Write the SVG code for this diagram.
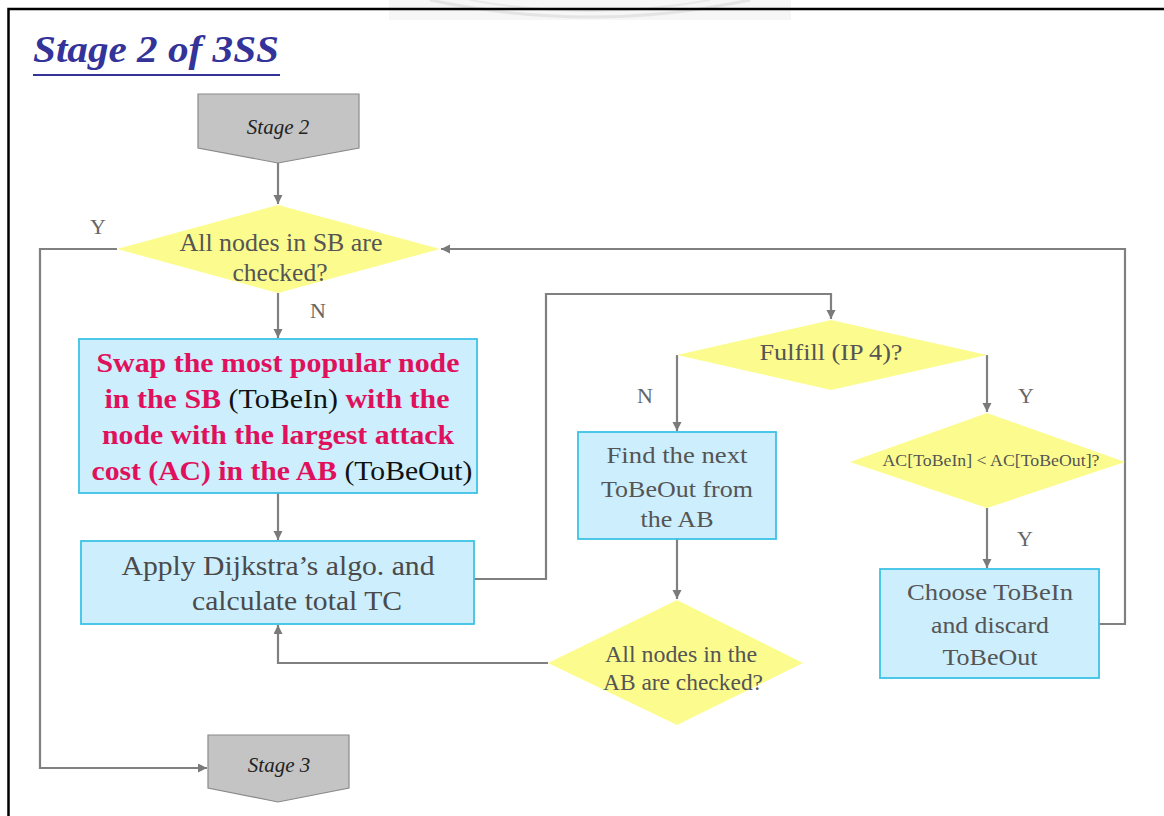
<svg xmlns="http://www.w3.org/2000/svg" width="1164" height="816" viewBox="0 0 1164 816">
  <defs>
    <marker id="arrow" markerUnits="userSpaceOnUse" markerWidth="10" markerHeight="10" refX="9" refY="4.5" orient="auto">
      <path d="M0,0 L9,4.5 L0,9 z" fill="#7a7a7a"/>
    </marker>
    <style>
      .frame { stroke: #000; stroke-width: 2.5; fill: none; }
      .conn { fill: none; stroke: #808080; stroke-width: 2.2; }
      .box { fill: #cdeefd; stroke: #3cc3e6; stroke-width: 1.8; }
      .dia { fill: #fcfc8e; }
      .term { fill: #c4c4c4; stroke: #8a8a8a; stroke-width: 1.2; }
      .txt { font-family: "Liberation Serif", "Times New Roman", serif; fill: #555; text-anchor: middle; }
      .lbl { font-family: "Liberation Serif", "Times New Roman", serif; fill: #666; font-size: 22px; text-anchor: middle; }
      .term-txt { font-family: "Liberation Serif", "Times New Roman", serif; font-style: italic; font-size: 21px; fill: #222; text-anchor: middle; }
      .hot { font-weight: bold; fill: #e0115c; }
      .plain { font-weight: normal; fill: #111; }
    </style>
  </defs>

  <rect width="1164" height="816" fill="#ffffff"/>

  <!-- faint seal at the top edge -->
  <g id="seal" opacity="0.55">
    <rect x="389" y="0" width="402" height="20" fill="#efefef"/>
    <path d="M430,0 Q590,34 750,0" fill="none" stroke="#cfcfcf" stroke-width="3"/>
    <path d="M470,0 Q590,22 710,0" fill="none" stroke="#d6d6d6" stroke-width="2"/>
  </g>

  <!-- slide frame -->
  <path class="frame" d="M1164,9 H8.5 V816"/>

  <!-- title -->
  <g id="title">
    <text x="33" y="62" font-family="Liberation Serif, Times New Roman, serif" font-size="38" font-weight="bold" font-style="italic" fill="#333399" textLength="246" lengthAdjust="spacingAndGlyphs">Stage 2 of 3SS</text>
    <line x1="33" y1="75" x2="280" y2="75" stroke="#333399" stroke-width="2"/>
  </g>

  <!-- connectors -->
  <g id="connectors">
    <path class="conn" d="M278,163 V204" marker-end="url(#arrow)"/>
    <path class="conn" d="M278,293 V338" marker-end="url(#arrow)"/>
    <path class="conn" d="M278,493 V540" marker-end="url(#arrow)"/>
    <path class="conn" d="M474,579 H546 V294 H831 V319" marker-end="url(#arrow)"/>
    <path class="conn" d="M677,355 V431" marker-end="url(#arrow)"/>
    <path class="conn" d="M677,539 V599" marker-end="url(#arrow)"/>
    <path class="conn" d="M548,663 H278 V625" marker-end="url(#arrow)"/>
    <path class="conn" d="M987,355 V412" marker-end="url(#arrow)"/>
    <path class="conn" d="M987,508 V568" marker-end="url(#arrow)"/>
    <path class="conn" d="M1099,624 H1125 V249 H441" marker-end="url(#arrow)"/>
    <path class="conn" d="M117,249 H40 V768 H207" marker-end="url(#arrow)"/>
  </g>

  <!-- branch labels -->
  <g id="labels">
    <text class="lbl" x="98" y="234">Y</text>
    <text class="lbl" x="318" y="318">N</text>
    <text class="lbl" x="645" y="403">N</text>
    <text class="lbl" x="1026" y="403">Y</text>
    <text class="lbl" x="1025" y="546">Y</text>
  </g>

  <g id="stage2">
    <path class="term" d="M198,94 H359 V148 L278,163 L198,148 Z"/>
    <text class="term-txt" x="278" y="134">Stage 2</text>
  </g>

  <g id="check-sb">
    <path class="dia" d="M278,205 L440,249 L278,293 L117,249 Z"/>
    <text class="txt" font-size="25" x="281" y="251" textLength="203" lengthAdjust="spacingAndGlyphs">All nodes in SB are</text>
    <text class="txt" font-size="25" x="280" y="281" textLength="95" lengthAdjust="spacingAndGlyphs">checked?</text>
  </g>

  <g id="swap">
    <rect class="box" x="79" y="339" width="398" height="154"/>
    <text x="278" y="372" font-family="Liberation Serif, Times New Roman, serif" font-size="28" text-anchor="middle" textLength="363" lengthAdjust="spacingAndGlyphs"><tspan class="hot">Swap the most popular node</tspan></text>
    <text x="277" y="408" font-family="Liberation Serif, Times New Roman, serif" font-size="28" text-anchor="middle" textLength="345" lengthAdjust="spacingAndGlyphs"><tspan class="hot">in the SB </tspan><tspan class="plain">(ToBeIn)</tspan><tspan class="hot"> with the</tspan></text>
    <text x="278" y="444" font-family="Liberation Serif, Times New Roman, serif" font-size="28" text-anchor="middle" textLength="352" lengthAdjust="spacingAndGlyphs"><tspan class="hot">node with the largest attack</tspan></text>
    <text x="282" y="480" font-family="Liberation Serif, Times New Roman, serif" font-size="28" text-anchor="middle" textLength="381" lengthAdjust="spacingAndGlyphs"><tspan class="hot">cost (AC) in the AB </tspan><tspan class="plain">(ToBeOut)</tspan></text>
  </g>

  <g id="dijkstra">
    <rect class="box" x="81" y="541" width="393" height="83"/>
    <text class="txt" font-size="28" x="278" y="575" fill="#4a4a4a" style="fill:#4a4a4a" textLength="313" lengthAdjust="spacingAndGlyphs">Apply Dijkstra’s algo. and</text>
    <text class="txt" font-size="28" x="297" y="610" style="fill:#4a4a4a" textLength="210" lengthAdjust="spacingAndGlyphs">calculate total TC</text>
  </g>

  <g id="fulfill">
    <path class="dia" d="M831,320 L987,355 L831,390 L677,355 Z"/>
    <text class="txt" font-size="24" x="831" y="360" textLength="143" lengthAdjust="spacingAndGlyphs">Fulfill (IP 4)?</text>
  </g>

  <g id="next-out">
    <rect class="box" x="578" y="432" width="198" height="107"/>
    <text class="txt" font-size="24" x="677" y="463" textLength="141" lengthAdjust="spacingAndGlyphs">Find the next</text>
    <text class="txt" font-size="24" x="677" y="497" textLength="152" lengthAdjust="spacingAndGlyphs">ToBeOut from</text>
    <text class="txt" font-size="24" x="677" y="527" textLength="73" lengthAdjust="spacingAndGlyphs">the AB</text>
  </g>

  <g id="check-ab">
    <path class="dia" d="M677,600 L803,663 L677,725 L548,663 Z"/>
    <text class="txt" font-size="23" x="681" y="662" textLength="152" lengthAdjust="spacingAndGlyphs">All nodes in the</text>
    <text class="txt" font-size="23" x="683" y="690" textLength="160" lengthAdjust="spacingAndGlyphs">AB are checked?</text>
  </g>

  <g id="compare-ac">
    <path class="dia" d="M987,413 L1125,462 L987,508 L850,462 Z"/>
    <text class="txt" font-size="17" x="991" y="466" textLength="217" lengthAdjust="spacingAndGlyphs">AC[ToBeIn] &lt; AC[ToBeOut]?</text>
  </g>

  <g id="choose">
    <rect class="box" x="880" y="569" width="219" height="109"/>
    <text class="txt" font-size="24" x="990" y="600" textLength="166" lengthAdjust="spacingAndGlyphs">Choose ToBeIn</text>
    <text class="txt" font-size="24" x="990" y="633" textLength="118" lengthAdjust="spacingAndGlyphs">and discard</text>
    <text class="txt" font-size="24" x="990" y="665" textLength="95" lengthAdjust="spacingAndGlyphs">ToBeOut</text>
  </g>

  <g id="stage3">
    <path class="term" d="M208,735 H349 V788 L278,802 L208,788 Z"/>
    <text class="term-txt" x="279" y="772">Stage 3</text>
  </g>
</svg>
